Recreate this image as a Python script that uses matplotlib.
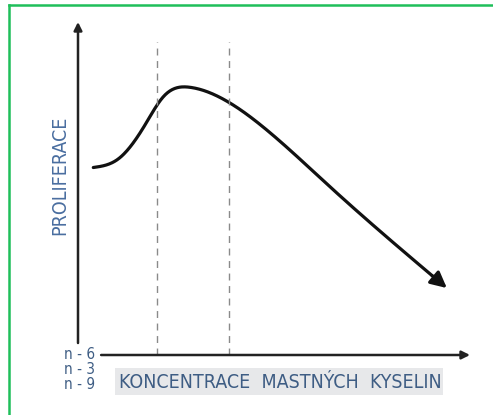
import numpy as np
import matplotlib
matplotlib.use("Agg")
import matplotlib.pyplot as plt
from matplotlib.lines import Line2D
from matplotlib.patches import Rectangle

# ---- data (arbitrary units: concentration 0-10, proliferation 0-10) ----
conc = [0.39, 1.03, 1.71, 2.18, 2.85, 3.58, 4.72, 6.43, 9.41]
prolif = [5.63, 5.89, 6.91, 7.76, 8.04, 7.76, 6.85, 5.05, 2.01]
dashed_x = [2.02, 3.85]
ratio_labels = ["n - 6", "n - 3", "n - 9"]
xlabel = "KONCENTRACE  MASTNÝCH  KYSELIN"
ylabel = "PROLIFERACE"

W, H = 493, 415
AX_W, AX_H = 392, 333
fig = plt.figure(figsize=(W / 100, H / 100), dpi=100)
fig.patch.set_facecolor("white")

ax = fig.add_axes([78 / W, (H - 355) / H, AX_W / W, AX_H / H])
ax.set_xlim(0, 10)
ax.set_ylim(0, 10)
ax.axis("off")


def natural_spline(xs, ys, n=600):
    x = np.asarray(xs, float)
    y = np.asarray(ys, float)
    N = len(x)
    h = np.diff(x)
    A = np.zeros((N, N))
    b = np.zeros(N)
    A[0, 0] = A[-1, -1] = 1.0
    for i in range(1, N - 1):
        A[i, i - 1] = h[i - 1]
        A[i, i] = 2 * (h[i - 1] + h[i])
        A[i, i + 1] = h[i]
        b[i] = 3 * ((y[i + 1] - y[i]) / h[i] - (y[i] - y[i - 1]) / h[i - 1])
    c = np.linalg.solve(A, b)
    bb = (y[1:] - y[:-1]) / h - h * (2 * c[:-1] + c[1:]) / 3
    d = (c[1:] - c[:-1]) / (3 * h)
    xx = np.linspace(x[0], x[-1], n)
    idx = np.clip(np.searchsorted(x, xx) - 1, 0, N - 2)
    dx = xx - x[idx]
    yy = y[idx] + bb[idx] * dx + c[idx] * dx ** 2 + d[idx] * dx ** 3
    return xx, yy


cx, cy = natural_spline(conc, prolif)
k = len(cx) - 25
ax.plot(cx[:k], cy[:k], color="#111111", lw=2.3,
        solid_capstyle="round", solid_joinstyle="round", clip_on=False)
ax.annotate("", xy=(conc[-1], prolif[-1]), xytext=(cx[k - 1], cy[k - 1]),
            arrowprops=dict(arrowstyle="-|>", color="#111111", lw=2.3,
                            mutation_scale=24, shrinkA=0, shrinkB=0), annotation_clip=False)

# dashed guides
for dx in dashed_x:
    ax.plot([dx, dx], [0, 9.4], color="#8a8a8a", lw=1.0, ls=(0, (5, 4)), clip_on=False)

# axes with arrows
ax.annotate("", xy=(0, 10.0), xytext=(0, 0.36),
            arrowprops=dict(arrowstyle="-|>", color="#222222", lw=1.8,
                            mutation_scale=12, shrinkA=0, shrinkB=0), annotation_clip=False)
ax.annotate("", xy=(10.0, 0), xytext=(0.59, 0),
            arrowprops=dict(arrowstyle="-|>", color="#222222", lw=1.8,
                            mutation_scale=12, shrinkA=0, shrinkB=0), annotation_clip=False)

txt_col = "#3e5d84"
fkw = dict(family="DejaVu Sans", fontstretch="condensed")

# ratio labels
for i, lab in enumerate(ratio_labels):
    fig.text(95 / W, 1 - (354 + i * 15) / H, lab, ha="right", va="center",
             fontsize=11, color=txt_col, **fkw)

# x label box
fig.add_artist(Rectangle((115 / W, 1 - 395 / H), (443 - 115) / W, (395 - 368) / H,
                         transform=fig.transFigure, facecolor="#e7e8ea", edgecolor="none"))
fig.text(280 / W, 1 - 382 / H, xlabel, ha="center", va="center",
         fontsize=14, color=txt_col, **fkw)

# y label
fig.text(60 / W, 1 - 175 / H, ylabel, ha="center", va="center", rotation=90,
         fontsize=14, color="#4a6ea0", **fkw)

# green frame (top and left)
green = "#1fbf5a"
fig.add_artist(Line2D([9 / W, 1], [1 - 5 / H, 1 - 5 / H], transform=fig.transFigure,
                      color=green, lw=1.8))
fig.add_artist(Line2D([9 / W, 9 / W], [0, 1 - 5 / H], transform=fig.transFigure,
                      color=green, lw=1.8))

fig.savefig("out.png", dpi=100, facecolor="white")
